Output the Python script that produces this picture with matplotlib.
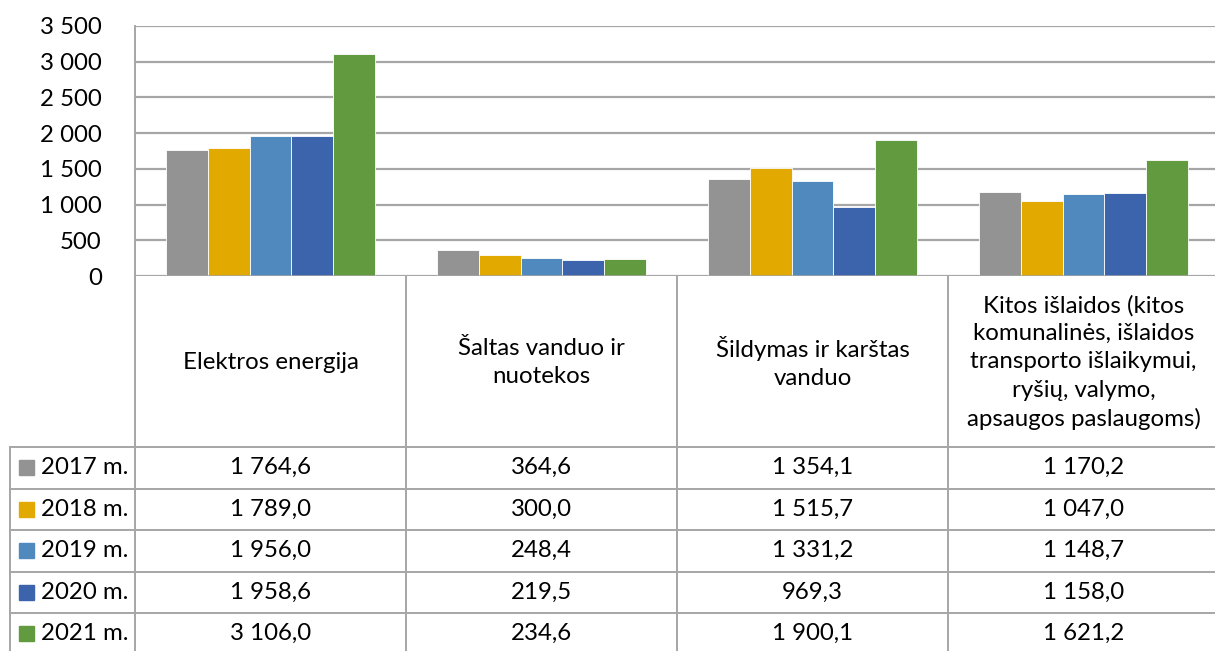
import matplotlib.pyplot as plt
import numpy as np

plt.rcParams['font.family'] = ['Lato', 'DejaVu Sans']

categories = [
    'Elektros energija',
    'Šaltas vanduo ir\nnuotekos',
    'Šildymas ir karštas\nvanduo',
    'Kitos išlaidos (kitos\nkomunalinės, išlaidos\ntransporto išlaikymui,\nryšių, valymo,\napsaugos paslaugoms)',
]
years = ['2017 m.', '2018 m.', '2019 m.', '2020 m.', '2021 m.']
values = {
    '2017 m.': [1764.6, 364.6, 1354.1, 1170.2],
    '2018 m.': [1789.0, 300.0, 1515.7, 1047.0],
    '2019 m.': [1956.0, 248.4, 1331.2, 1148.7],
    '2020 m.': [1958.6, 219.5, 969.3, 1158.0],
    '2021 m.': [3106.0, 234.6, 1900.1, 1621.2],
}
colors = ['#939393', '#E2AA00', '#4F89BD', '#3C64AD', '#629A3F']
yticks = np.arange(0, 3501, 500)

W, H = 1215, 651
grid_col = '#A6A6A6'
fs = 17.3

# plot area in pixels
x0, cat_w = 135, 271
top, base = 26, 276
n_cat = len(categories)


def fmt(v, decimals=0):
    s = f'{v:,.{decimals}f}'
    return s.replace(',', ' ').replace('.', ',')


fig = plt.figure(figsize=(W / 100, H / 100), dpi=100)

ax = fig.add_axes([x0 / W, (H - base) / H, n_cat * cat_w / W, (base - top) / H])
bar_w = 1 / (5 + 1.5)
x = np.arange(n_cat)
for k, yr in enumerate(years):
    ax.bar(x - 2 * bar_w + k * bar_w, values[yr], width=bar_w, color=colors[k],
           edgecolor='#ffffff', linewidth=0.6, zorder=3)
ax.set_xlim(-0.5, n_cat - 0.5)
ax.set_ylim(0, 3500)
ax.set_yticks(yticks)
ax.set_yticklabels([fmt(v) for v in yticks], fontsize=fs)
ax.tick_params(axis='y', length=0, pad=24)
ax.set_xticks([])
ax.grid(axis='y', color=grid_col, linewidth=1.6, zorder=0)
for s in ['top', 'right', 'bottom']:
    ax.spines[s].set_visible(False)
ax.spines['left'].set_color(grid_col)
ax.spines['left'].set_linewidth(1.4)
ax.axhline(0, color=grid_col, linewidth=1.8, zorder=4)

# data table below the plot, drawn in pixel coordinates
tb = fig.add_axes([0, 0, 1, 1])
tb.set_xlim(0, W)
tb.set_ylim(H, 0)
tb.axis('off')

head_bot = 447
row_h = 41.5
rows_y = [head_bot + i * row_h for i in range(len(years) + 1)]
lw = 1.4
col_edges = [x0 + i * cat_w for i in range(n_cat + 1)]

# vertical separators
for xe in col_edges:
    tb.plot([xe, xe], [base, H + 5], color=grid_col, lw=lw)
tb.plot([10, 10], [head_bot, H + 5], color=grid_col, lw=lw)
# horizontal separators
for yr_y in rows_y:
    tb.plot([10, W + 10], [yr_y, yr_y], color=grid_col, lw=lw)

# header labels
for i, cat in enumerate(categories):
    tb.text(x0 + (i + 0.5) * cat_w, (base + head_bot) / 2 + 1, cat, ha='center', va='center',
            fontsize=fs, linespacing=1.42, color='#000000')

# year rows
for k, yr in enumerate(years):
    yc = rows_y[k] + row_h / 2
    tb.add_patch(plt.Rectangle((19, yc - 7.5), 15, 15, color=colors[k]))
    tb.text(41, yc, yr, ha='left', va='center', fontsize=fs)
    for i in range(n_cat):
        tb.text(x0 + (i + 0.5) * cat_w, yc, fmt(values[yr][i], 1),
                ha='center', va='center', fontsize=fs)

fig.savefig('out.png', dpi=100)
